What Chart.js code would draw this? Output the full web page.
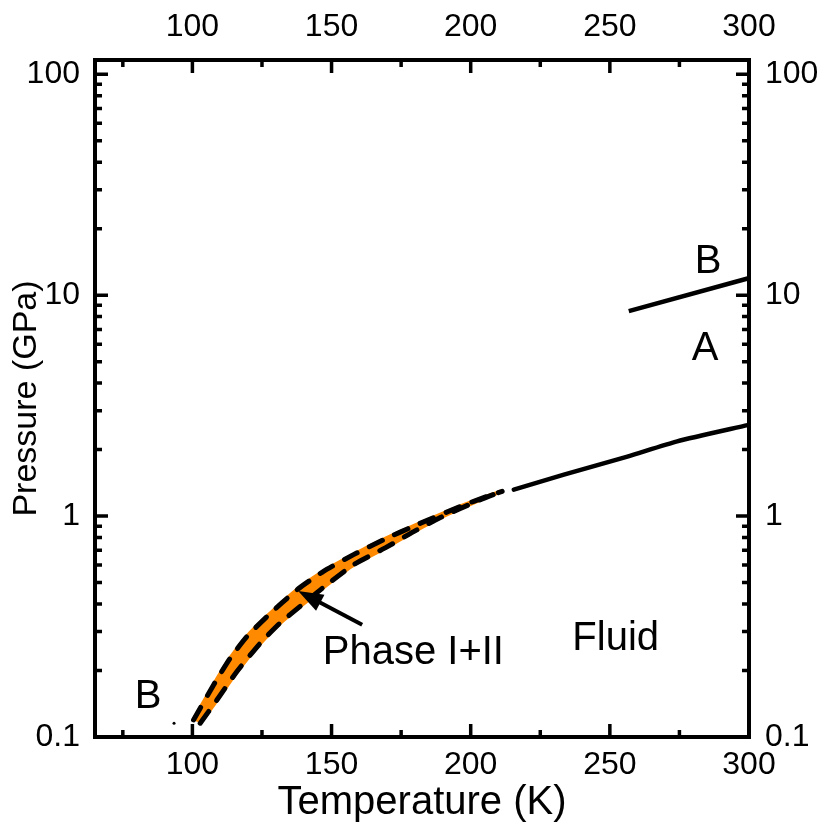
<!DOCTYPE html>
<html>
<head>
<meta charset="utf-8">
<script src="https://cdn.jsdelivr.net/npm/chart.js@4"></script>
<style>
  html, body { margin: 0; padding: 0; background: #fff; }
  #wrap { width: 830px; height: 839px; }
</style>
</head>
<body>
<div id="wrap"><canvas id="phaseChart" width="830" height="839"></canvas></div>
<script>
// Values (T in K, P in GPa)
const tempUpper = [100.4, 107.6, 113.6, 119.6, 126.8, 137.6, 147.1, 157.9, 168.7, 180.7, 196.3, 205.9, 211.3];
const presUpper = [0.1195, 0.172, 0.2275, 0.285, 0.351, 0.464, 0.562, 0.669, 0.782, 0.914, 1.106, 1.228, 1.294];
const tempLower = [102.8, 108.8, 116.0, 124.4, 131.5, 138.7, 147.1, 157.9, 169.9, 179.5, 189.1, 203.5, 210.7];
const presLower = [0.1155, 0.147, 0.198, 0.266, 0.328, 0.390, 0.476, 0.602, 0.725, 0.850, 0.985, 1.186, 1.29];
const tempHigh = [215.5, 233.5, 256.3, 274.2, 299.5];
const presHigh = [1.318, 1.54, 1.86, 2.18, 2.58];
const tempAB = [256.8, 299.5];
const presAB = [8.46, 11.9];
const tempDot = [93.4];
const presDot = [0.1155];

const xTicks = [100, 150, 200, 250, 300];
const xMinorTicks = [75, 125, 175, 225, 275];
const yTicks = [0.1, 1, 10, 100];

const X_MIN = 65, X_MAX = 300, Y_MIN = 0.1, Y_MAX = 116;

const toPoints = (xs, ys) => xs.map((t, i) => ({ x: t, y: ys[i] }));

// closed outline of the two-phase band: upper edge then lower edge back down
const bandPoints = toPoints(tempUpper, presUpper).concat(toPoints(tempLower, presLower).reverse());

// text labels and the arrow, in data units
const labels = [
  { text: 'Phase I+II', t: 179.4, p: 0.248 },
  { text: 'Fluid', t: 252.1, p: 0.287 },
  { text: 'B', t: 285.3, p: 14.6 },
  { text: 'A', t: 284.2, p: 5.91 },
  { text: 'B', t: 84.1, p: 0.157 }
];
const arrow = { from: { t: 161.0, p: 0.322 }, to: { t: 138.0, p: 0.458 } };

const FONT = "'Liberation Sans', Arial, sans-serif";

const frameAndTicks = {
  id: 'frameAndTicks',
  afterDatasetsDraw(chart) {
    const { ctx, chartArea: a, scales } = chart;
    const sx = scales.x, sy = scales.y;
    ctx.save();
    ctx.strokeStyle = '#000';
    ctx.lineCap = 'butt';
    ctx.lineWidth = 3.5;
    ctx.beginPath();
    const xTick = (v, len) => {
      const px = sx.getPixelForValue(v);
      ctx.moveTo(px, a.bottom); ctx.lineTo(px, a.bottom - len);
      ctx.moveTo(px, a.top); ctx.lineTo(px, a.top + len);
    };
    const yTick = (v, len) => {
      const py = sy.getPixelForValue(v);
      ctx.moveTo(a.left, py); ctx.lineTo(a.left + len, py);
      ctx.moveTo(a.right, py); ctx.lineTo(a.right - len, py);
    };
    xTicks.forEach(v => xTick(v, 13));
    xMinorTicks.forEach(v => xTick(v, 7));
    yTicks.forEach(v => yTick(v, 13));
    for (let d = -1; d <= 2; d++) {
      for (let k = 2; k <= 9; k++) {
        const v = k * Math.pow(10, d);
        if (v < Y_MAX) yTick(v, 7);
      }
    }
    ctx.stroke();
    ctx.lineWidth = 4;
    ctx.strokeRect(a.left, a.top, a.right - a.left, a.bottom - a.top);
    ctx.restore();
  }
};

const annotations = {
  id: 'annotations',
  afterDatasetsDraw(chart) {
    const { ctx, scales } = chart;
    const sx = scales.x, sy = scales.y;
    ctx.save();
    // arrow
    const x1 = sx.getPixelForValue(arrow.from.t), y1 = sy.getPixelForValue(arrow.from.p);
    const x2 = sx.getPixelForValue(arrow.to.t), y2 = sy.getPixelForValue(arrow.to.p);
    const ang = Math.atan2(y2 - y1, x2 - x1);
    const headLen = 25, headHalf = 9;
    const bx = x2 - headLen * Math.cos(ang), by = y2 - headLen * Math.sin(ang);
    ctx.strokeStyle = '#000';
    ctx.lineWidth = 4;
    ctx.beginPath();
    ctx.moveTo(x1, y1);
    ctx.lineTo(bx + 4 * Math.cos(ang), by + 4 * Math.sin(ang));
    ctx.stroke();
    ctx.fillStyle = '#000';
    ctx.beginPath();
    ctx.moveTo(x2, y2);
    ctx.lineTo(bx + headHalf * Math.sin(ang), by - headHalf * Math.cos(ang));
    ctx.lineTo(bx - headHalf * Math.sin(ang), by + headHalf * Math.cos(ang));
    ctx.closePath();
    ctx.fill();
    // text
    ctx.font = '40px ' + FONT;
    ctx.textAlign = 'center';
    ctx.textBaseline = 'alphabetic';
    labels.forEach(l => {
      ctx.fillText(l.text, sx.getPixelForValue(l.t), sy.getPixelForValue(l.p) + 14);
    });
    ctx.restore();
  }
};

const tickFont = { family: FONT, size: 32 };
const fmtY = v => (v < 1 ? '0.1' : String(Math.round(v)));

const dashed = {
  showLine: true,
  borderColor: '#000',
  borderWidth: 5,
  borderDash: [14.5, 13.5],
  borderCapStyle: 'round',
  pointRadius: 0,
  tension: 0.2,
  order: 1
};

new Chart(document.getElementById('phaseChart'), {
  type: 'scatter',
  data: {
    datasets: [
      {
        label: 'band',
        data: bandPoints,
        showLine: true,
        fill: 'shape',
        backgroundColor: '#FF8A00',
        borderColor: '#FF8A00',
        borderWidth: 4,
        borderJoinStyle: 'round',
        pointRadius: 0,
        tension: 0.2,
        order: 5
      },
      Object.assign({ label: 'upper', data: toPoints(tempUpper, presUpper) }, dashed),
      Object.assign({ label: 'lower', data: toPoints(tempLower, presLower) }, dashed),
      {
        label: 'high',
        data: toPoints(tempHigh, presHigh),
        showLine: true,
        borderColor: '#000',
        borderWidth: 4.5,
        borderCapStyle: 'round',
        pointRadius: 0,
        tension: 0.2,
        order: 1
      },
      {
        label: 'AB',
        data: toPoints(tempAB, presAB),
        showLine: true,
        borderColor: '#000',
        borderWidth: 4.5,
        pointRadius: 0,
        order: 1
      },
      {
        label: 'dot',
        data: toPoints(tempDot, presDot),
        showLine: false,
        backgroundColor: '#000',
        borderWidth: 0,
        pointRadius: 1.5,
        order: 1
      }
    ]
  },
  options: {
    responsive: false,
    animation: false,
    devicePixelRatio: 1,
    layout: { padding: 0 },
    plugins: { legend: { display: false }, tooltip: { enabled: false } },
    scales: {
      x: {
        type: 'linear', position: 'bottom', min: X_MIN, max: X_MAX,
        grid: { display: false, drawTicks: false }, border: { display: false },
        afterBuildTicks: s => { s.ticks = xTicks.map(v => ({ value: v })); },
        afterFit: s => { s.height = 102; },
        ticks: { font: tickFont, color: '#000', padding: 9, maxRotation: 0 },
        title: { display: true, text: 'Temperature (K)', color: '#000',
                 font: { family: FONT, size: 40 }, padding: { top: 0, bottom: 12 } }
      },
      x2: {
        type: 'linear', position: 'top', min: X_MIN, max: X_MAX,
        grid: { display: false, drawTicks: false }, border: { display: false },
        afterBuildTicks: s => { s.ticks = xTicks.map(v => ({ value: v })); },
        afterFit: s => { s.height = 60; },
        ticks: { font: tickFont, color: '#000', padding: 14, maxRotation: 0 }
      },
      y: {
        type: 'logarithmic', position: 'left', min: Y_MIN, max: Y_MAX,
        grid: { display: false, drawTicks: false }, border: { display: false },
        afterBuildTicks: s => { s.ticks = yTicks.map(v => ({ value: v })); },
        afterFit: s => { s.width = 95; },
        ticks: { font: tickFont, color: '#000', padding: 15, callback: fmtY },
        title: { display: true, text: 'Pressure (GPa)', color: '#000',
                 font: { family: FONT, size: 34 }, padding: { top: 6, bottom: 0 } }
      },
      y2: {
        type: 'logarithmic', position: 'right', min: Y_MIN, max: Y_MAX,
        grid: { display: false, drawTicks: false }, border: { display: false },
        afterBuildTicks: s => { s.ticks = yTicks.map(v => ({ value: v })); },
        afterFit: s => { s.width = 81; },
        ticks: { font: tickFont, color: '#000', padding: 16, callback: fmtY }
      }
    }
  },
  plugins: [frameAndTicks, annotations]
});
</script>
</body>
</html>
